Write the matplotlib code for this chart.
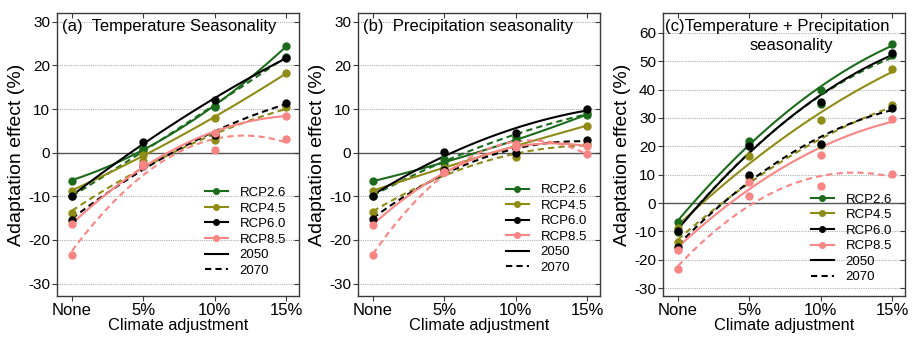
import numpy as np
import matplotlib
matplotlib.use("Agg")
import matplotlib.pyplot as plt
from matplotlib.lines import Line2D

plt.rcParams['font.family'] = ['Liberation Sans', 'DejaVu Sans']

x_levels = [0, 5, 10, 15]
x_labels = ["None", "5%", "10%", "15%"]
scenarios = ["RCP2.6", "RCP4.5", "RCP6.0", "RCP8.5"]
colors = ["#1c6b1c", "#8f8c16", "#000000", "#f98585"]

# Panel (a) Temperature seasonality
a_2050 = {"RCP2.6": [-6.4, 1.0, 10.5, 24.4], "RCP4.5": [-8.7, -0.5, 8.0, 18.2],
          "RCP6.0": [-10.0, 2.5, 12.0, 21.8], "RCP8.5": [-16.4, -3.0, 4.5, 8.5]}
a_2070 = {"RCP2.6": [-10.0, 0.5, 10.8, 22.0], "RCP4.5": [-13.8, -2.0, 2.8, 10.5],
          "RCP6.0": [-15.4, -3.0, 4.0, 11.4], "RCP8.5": [-23.4, -2.5, 0.5, 3.2]}
# Panel (b) Precipitation seasonality
b_2050 = {"RCP2.6": [-6.5, -2.3, 3.0, 8.7], "RCP4.5": [-8.7, -3.4, 1.5, 6.2],
          "RCP6.0": [-10.0, 0.2, 4.6, 10.0], "RCP8.5": [-16.5, -4.5, 1.2, 1.5]}
b_2070 = {"RCP2.6": [-10.0, -1.4, 3.6, 9.0], "RCP4.5": [-13.7, -4.5, -1.0, 1.9],
          "RCP6.0": [-15.3, -4.0, 0.0, 2.9], "RCP8.5": [-23.4, -4.5, 2.0, -0.2]}
# Panel (c) Temperature + Precipitation seasonality
c_2050 = {"RCP2.6": [-6.6, 21.9, 39.7, 55.9], "RCP4.5": [-8.7, 16.6, 29.2, 47.1],
          "RCP6.0": [-10.0, 20.2, 35.6, 53.0], "RCP8.5": [-16.4, 7.5, 17.0, 29.5]}
c_2070 = {"RCP2.6": [-10.1, 20.7, 35.0, 52.2], "RCP4.5": [-13.6, 9.3, 20.4, 34.6],
          "RCP6.0": [-15.6, 10.0, 20.8, 33.6], "RCP8.5": [-23.4, 2.6, 6.0, 10.4]}

panels = [
    (["(a)  Temperature Seasonality"], a_2050, a_2070, (-32.8, 32), np.arange(-30, 31, 10), 0.035),
    (["(b)  Precipitation seasonality"], b_2050, b_2070, (-32.8, 32), np.arange(-30, 31, 10), 0.045),
    (["(c)Temperature + Precipitation", "seasonality"], c_2050, c_2070, (-32.7, 67),
     np.arange(-30, 61, 10), 0.012),
]

fig = plt.figure(figsize=(9.16, 3.42), dpi=100)
lefts = [0.0622, 0.3908, 0.7238]
spine_col = "#3a3a3a"

xs = np.array(x_levels, dtype=float)
xf = np.linspace(0, 15, 120)

for i, (title, d50, d70, ylim, yticks, leg_y) in enumerate(panels):
    ax = fig.add_axes([lefts[i], 0.135, 0.264, 0.827])
    for yt in yticks:
        if yt != 0:
            ax.axhline(yt, color="#b0b0b0", lw=0.8, ls=(0, (1, 1)), zorder=0)
    ax.axhline(0, color="#555555", lw=1.0, zorder=1)
    for s, c in zip(scenarios, colors):
        for data, ls in ((d50, "-"), (d70, (0, (3, 2)))):
            ys = np.array(data[s])
            coef = np.polyfit(xs, ys, 2)
            ax.plot(xf, np.polyval(coef, xf), color=c, lw=1.5, ls=ls, zorder=2)
            ax.plot(xs, ys, "o", color=c, ms=5, zorder=3)
    ax.set_xlim(-1.05, 15.9)
    ax.set_ylim(*ylim)
    ax.set_xticks(x_levels)
    ax.set_xticklabels(x_labels, fontsize=12)
    ax.set_yticks(yticks)
    ax.set_yticklabels([str(v) for v in yticks], fontsize=11)
    ax.tick_params(axis="both", which="both", top=True, right=True, color=spine_col,
                   length=3.5, width=0.8, pad=1.5)
    ax.tick_params(axis="x", which="both", top=True, labeltop=False)
    for sp in ax.spines.values():
        sp.set_color(spine_col)
        sp.set_linewidth(1.0)
    for t in ax.xaxis.get_major_ticks():
        t.tick2line.set_marker(3)
    for t in ax.yaxis.get_major_ticks():
        t.tick2line.set_marker(0)
    ax.set_ylabel("Adaptation effect (%)", fontsize=14, labelpad=2)
    ax.set_xlabel("Climate adjustment", fontsize=11.8, labelpad=0)
    if i < 2:
        ax.text(0.02, 0.952, title[0], transform=ax.transAxes, ha="left", va="center", fontsize=12)
    else:
        ax.text(0.01, 0.951, title[0], transform=ax.transAxes, ha="left", va="center", fontsize=12)
        ax.text(0.53, 0.884, title[1], transform=ax.transAxes, ha="center", va="center", fontsize=12)
    handles = [Line2D([], [], color=c, marker="o", ms=4, lw=1.5) for c in colors]
    handles += [Line2D([], [], color="black", lw=1.5),
                Line2D([], [], color="black", lw=1.5, ls=(0, (3, 2)))]
    ax.legend(handles, scenarios + ["2050", "2070"], loc="lower right",
              bbox_to_anchor=(0.985, leg_y), frameon=False, fontsize=9.5,
              handlelength=1.75, labelspacing=0.25, handletextpad=0.9, borderpad=0.2)

fig.savefig("out.png", dpi=100)
